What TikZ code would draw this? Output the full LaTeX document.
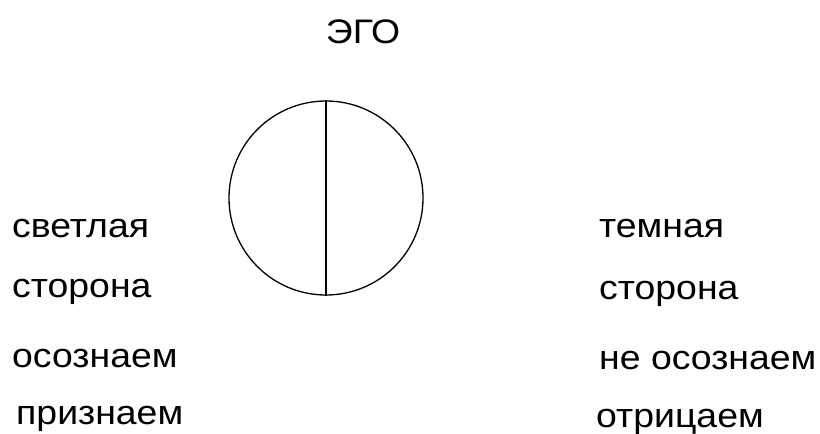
\documentclass[tikz,border=0pt]{standalone}
\usepackage{fontspec}
\setmainfont{Liberation Sans}
\newfontfamily\lblfont[FakeStretch=1.10]{Liberation Sans}
\begin{document}
\begin{tikzpicture}[x=1pt,y=-1pt,
  lbl/.style={anchor=base west,inner sep=0pt,font=\lblfont\fontsize{34}{40}\selectfont},
  ego/.style={draw=black,line width=1.3pt}]
\useasboundingbox (0,0) rectangle (820,434);
\node[lbl,anchor=base] (title) at (363,43) {ЭГО};
\node[ego,circle,minimum size=194pt,inner sep=0pt] (c) at (326,198) {};
\draw[ego] (c.north) -- (c.south);
\node[lbl] (l1) at (12,237) {светлая};
\node[lbl] (l2) at (12,297) {сторона};
\node[lbl] (l3) at (12,367) {осознаем};
\node[lbl] (l4) at (16,424) {признаем};
\node[lbl] (r1) at (599,237) {темная};
\node[lbl] (r2) at (599,299) {сторона};
\node[lbl] (r3) at (599,369) {не осознаем};
\node[lbl] (r4) at (596,427) {отрицаем};
\end{tikzpicture}
\end{document}
